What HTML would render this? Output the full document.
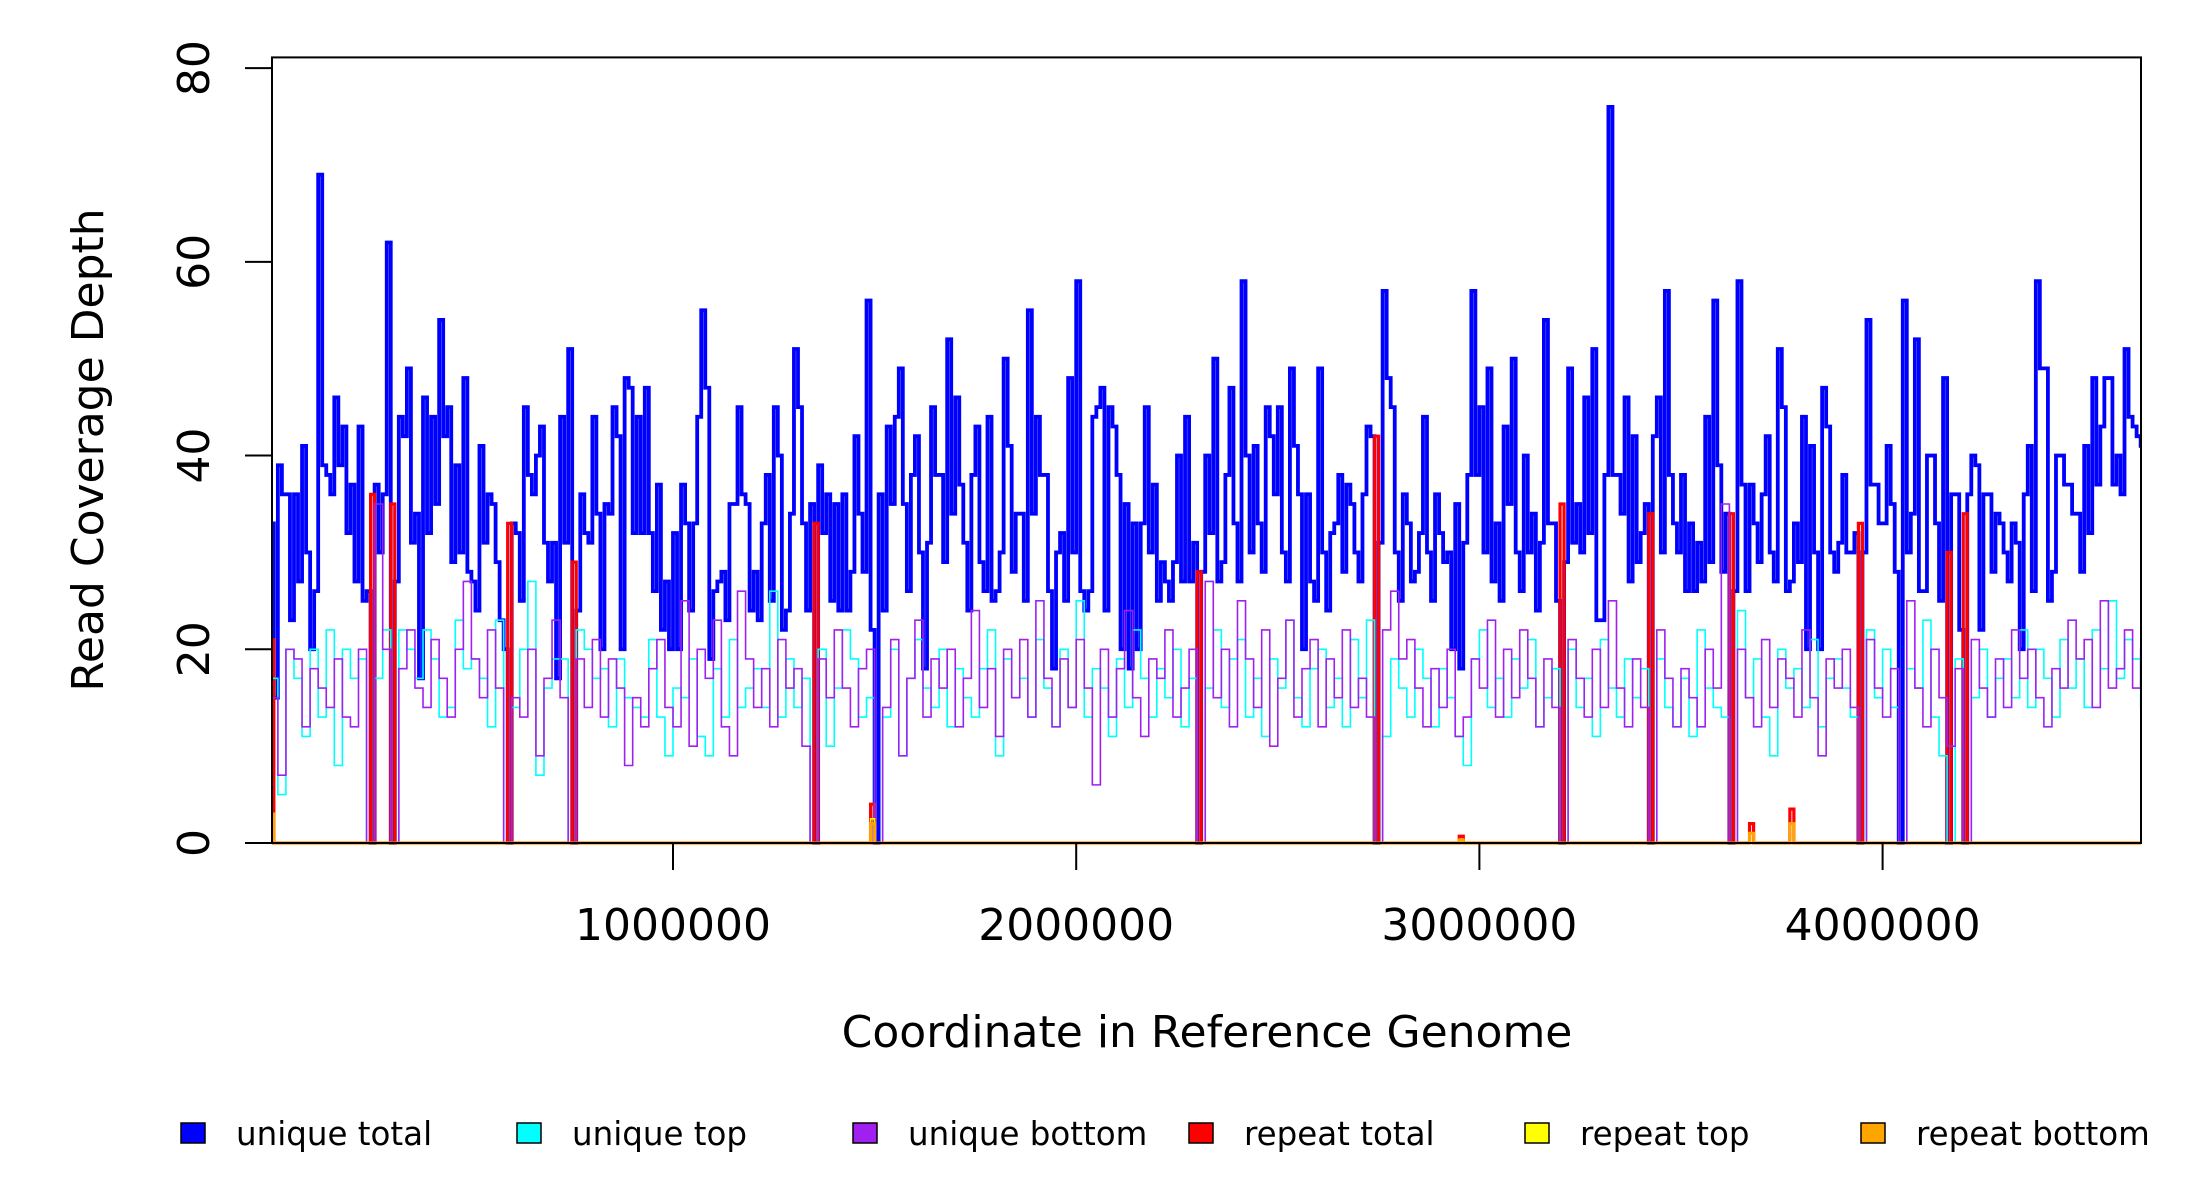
<!DOCTYPE html>
<html><head><meta charset="utf-8"><title>Read Coverage Depth</title>
<style>html,body{margin:0;padding:0;background:#fff}svg{display:block}text{font-family:"DejaVu Sans","Liberation Sans",sans-serif;fill:#000}</style>
</head><body>
<svg id="chart" width="2200" height="1200" viewBox="0 0 2200 1200" xmlns="http://www.w3.org/2000/svg">
<defs><clipPath id="plotclip"><rect x="272" y="57" width="1869" height="792"/></clipPath></defs>
<g id="series" clip-path="url(#plotclip)"></g>
<rect x="272" y="57.4" width="1869" height="785.6" fill="none" stroke="#000" stroke-width="2"/>
<g id="axes"></g>
<text transform="translate(103,450) rotate(-90)" text-anchor="middle" font-size="44">Read Coverage Depth</text>
<text x="1207" y="1047" text-anchor="middle" font-size="44">Coordinate in Reference Genome</text>
<g>
<g><rect x="181" y="1123" width="24" height="20" fill="#0000ff" stroke="#000" stroke-width="1.5"/><text x="236" y="1145" font-size="32.5">unique total</text></g>
<g><rect x="517" y="1123" width="24" height="20" fill="#00ffff" stroke="#000" stroke-width="1.5"/><text x="572" y="1145" font-size="32.5">unique top</text></g>
<g><rect x="853" y="1123" width="24" height="20" fill="#a020f0" stroke="#000" stroke-width="1.5"/><text x="908" y="1145" font-size="32.5">unique bottom</text></g>
<g><rect x="1189" y="1123" width="24" height="20" fill="#ff0000" stroke="#000" stroke-width="1.5"/><text x="1244" y="1145" font-size="32.5">repeat total</text></g>
<g><rect x="1525" y="1123" width="24" height="20" fill="#ffff00" stroke="#000" stroke-width="1.5"/><text x="1580" y="1145" font-size="32.5">repeat top</text></g>
<g><rect x="1861" y="1123" width="24" height="20" fill="#ffa500" stroke="#000" stroke-width="1.5"/><text x="1916" y="1145" font-size="32.5">repeat bottom</text></g>
</g>
</svg>
<script>
const totalBinSize = 10000;
const strandBinSize = 20000;
const xTicks = [1000000, 2000000, 3000000, 4000000];
const xTickLabels = ["1000000", "2000000", "3000000", "4000000"];
const yTicks = [0, 20, 40, 60, 80];
const yTickLabels = ["0", "20", "40", "60", "80"];
const uniqueTotal = [
33,15,39,36,36,23,36,27,41,30, 20,26,69,39,38,36,46,39,43,32, 37,27,43,25,26,0,37,30,36,62,
0,27,44,42,49,31,34,17,46,32, 44,35,54,42,45,29,39,30,48,28, 27,24,41,31,36,35,29,23,20,0,
33,32,25,45,38,36,40,43,31,27, 31,17,44,31,51,0,24,36,32,31, 44,34,20,35,34,45,42,20,48,47,
32,44,32,47,32,26,37,22,27,20, 32,20,37,33,24,33,44,55,47,19, 26,27,28,23,35,35,45,36,35,24,
28,23,33,38,25,45,40,22,24,34, 51,45,33,24,35,0,39,32,36,25, 35,24,36,24,28,42,34,28,56,22,
0,36,24,43,35,44,49,35,26,38,
42,30,18,31,45,38,38,29,52,34, 46,37,31,24,38,43,29,26,44,25, 26,30,50,41,28,34,34,25,55,34,
44,38,38,26,18,30,32,25,48,30, 58,26,24,26,44,45,47,24,45,43, 38,20,35,18,33,20,33,45,30,37,
25,29,27,25,29,40,27,44,27,31, 0,28,40,32,50,27,29,38,47,33, 27,58,40,30,41,33,28,45,42,36,
45,30,27,49,41,36,20,36,27,25, 49,30,24,32,33,38,28,37,35,30, 27,36,43,42,0,31,57,48,45,30,
25,36,33,27,28,32,44,30,25,36, 32,29,30,20,35,18,31,38,57,38, 45,30,49,27,33,25,43,35,50,30,
26,40,30,34,24,31,54,33,33,25, 0,29,49,31,35,30,46,32,51,23, 23,38,76,38,38,34,46,27,42,29,
32,35,0,42,46,30,57,38,33,30, 38,26,33,26,31,27,44,29,56,39, 28,34,0,26,58,37,26,37,33,29,
36,42,30,27,51,45,26,27,33,29, 44,20,41,30,20,47,43,30,28,31, 38,30,30,32,0,30,54,37,37,33,
33,41,35,28,0,56,30,34,52,26, 26,40,40,33,25,48,0,36,36,22, 0,36,40,39,22,36,36,28,34,33,
30,27,33,31,20,36,41,26,58,49, 49,25,28,40,40,37,37,34,34,28, 41,32,48,37,43,48,48,37,40,36,
51,44,43,42,41,27
];
const uniqueTop = [
17,5,20,17,11,20,13,22,8,20, 17,19,0,17,22,0,22,20,17,22, 19,13,14,23,18,19,17,12,23,0,
14,20,27,7,16,19,19,0,22,20, 17,18,12,19,15,14,13,21,13,9, 16,15,19,11,9,18,13,21,14,16,
18,14,26,13,19,14,17,0,20,10, 16,22,19,13,15,0,13,20,9,17, 21,16,14,20,12,18,15,13,18,22,
9,19,15,17,13,21,16,12,20,14, 25,13,18,16,11,19,14,22,17,13, 18,15,20,12,17,0,16,22,14,19,
21,13,17,11,19,16,23,15,12,18, 20,14,17,12,21,15,23,0,11,19, 16,13,20,17,12,18,15,11,8,19,
22,14,17,13,19,16,21,12,15,18, 0,20,14,17,11,21,16,13,19,15, 18,0,19,14,12,17,11,22,16,14,
13,0,24,15,19,13,9,20,16,18, 14,21,12,17,19,16,13,0,22,15, 20,14,0,18,16,23,13,9,0,19,
0,15,20,13,17,19,15,22,14,20, 17,13,21,16,19,14,22,18,25,17, 21,19,14
];
const uniqueBottom = [
15,7,20,19,12,18,16,14,19,13, 12,20,0,35,20,0,18,22,16,14, 21,17,13,20,27,19,15,22,16,0,
15,13,20,9,17,23,15,0,19,14, 21,13,19,16,8,15,12,18,21,14, 12,25,10,20,17,23,12,9,26,19,
14,18,12,21,16,18,10,0,19,15, 22,16,12,18,20,0,14,21,9,17, 23,13,19,16,20,12,17,24,14,18,
11,20,15,21,13,25,17,12,19,14, 21,16,6,20,13,18,24,15,11,19, 17,22,13,16,20,0,27,15,20,12,
25,19,14,22,10,17,23,13,18,21, 12,19,15,22,14,17,13,0,22,26, 19,21,16,12,18,14,20,11,13,19,
16,23,13,20,15,22,17,12,19,14, 0,21,17,13,20,14,25,16,12,19, 14,0,22,17,12,18,15,12,20,16,
35,0,20,15,12,21,14,19,17,13, 22,15,9,19,16,20,14,0,21,16, 13,18,0,25,16,12,20,15,10,18,
0,21,16,13,19,14,22,17,20,15, 12,18,16,23,19,21,14,25,16,18, 22,16,20
];
const repeatBins = [0, 25, 30, 59, 75, 135, 149, 230, 274, 295, 320, 342, 362, 367, 377, 394, 416, 420];
const repeatTotal = [21, 36, 35, 33, 29, 33, 4, 28, 42, 0.7, 35, 34, 34, 2, 3.5, 33, 30, 34];
const repeatTop = [1, 0, 0, 0, 0, 0, 2.5, 0, 0, 0.4, 0, 0, 0, 1, 2, 0, 0, 0];
const repeatBottom = [3, 0, 0, 0, 0, 0, 2, 0, 0, 0.3, 0, 0, 0, 1, 2, 0, 0, 0];

const NS = "http://www.w3.org/2000/svg";
function xScale(bp) { return 269.8 + bp * 403.2e-6; }
function yScale(v) { return 843 - v * 9.686; }
function stepPath(values, binSize) {
  let d = "";
  for (let i = 0; i < values.length; i++) {
    const x0 = xScale(i * binSize), x1 = xScale((i + 1) * binSize), y = yScale(values[i]);
    d += (i === 0 ? "M" : "L") + x0.toFixed(2) + "," + y.toFixed(2) + "L" + x1.toFixed(2) + "," + y.toFixed(2);
  }
  return d;
}
function sparse(nBins, bins, vals) {
  const out = new Array(nBins).fill(0);
  bins.forEach((b, k) => { out[b] = vals[k]; });
  return out;
}
const nBins = uniqueTotal.length;
const seriesLayer = document.getElementById("series");
function addSeries(values, binSize, color, width, name) {
  const p = document.createElementNS(NS, "path");
  p.setAttribute("d", stepPath(values, binSize));
  p.setAttribute("fill", "none");
  p.setAttribute("stroke", color);
  p.setAttribute("stroke-width", width);
  p.setAttribute("stroke-linejoin", "miter");
  
  
  seriesLayer.appendChild(p);
}
addSeries(uniqueTotal, totalBinSize, "#0000ff", 3.8, "unique-total-line");
addSeries(sparse(nBins, repeatBins, repeatTotal), totalBinSize, "#ff0000", 3.2, "repeat-total-line");
addSeries(uniqueTop, strandBinSize, "#00ffff", 1.6, "unique-top-line");
addSeries(uniqueBottom, strandBinSize, "#a020f0", 1.6, "unique-bottom-line");
addSeries(sparse(nBins, repeatBins, repeatTop), totalBinSize, "#ffff00", 1.6, "repeat-top-line");
addSeries(sparse(nBins, repeatBins, repeatBottom), totalBinSize, "#ffa500", 3, "repeat-bottom-line");

const axes = document.getElementById("axes");
function line(x1, y1, x2, y2, name) {
  const l = document.createElementNS(NS, "line");
  l.setAttribute("x1", x1); l.setAttribute("y1", y1);
  l.setAttribute("x2", x2); l.setAttribute("y2", y2);
  l.setAttribute("stroke", "#000"); l.setAttribute("stroke-width", "2");
  
  
  axes.appendChild(l);
}
line(272, yScale(yTicks[0]), 272, yScale(yTicks[yTicks.length - 1]), "y-axis-line");
yTicks.forEach((v, i) => {
  const y = yScale(v);
  line(245, y, 272, y, "y-tick");
  const t = document.createElementNS(NS, "text");
  t.setAttribute("transform", "translate(209," + y + ") rotate(-90)");
  t.setAttribute("text-anchor", "middle");
  t.setAttribute("font-size", "44");
  t.textContent = yTickLabels[i];
  
  
  axes.appendChild(t);
});
line(xScale(xTicks[0]), 843, xScale(xTicks[xTicks.length - 1]), 843, "x-axis-line");
xTicks.forEach((v, i) => {
  const x = xScale(v);
  line(x, 843, x, 870, "x-tick");
  const t = document.createElementNS(NS, "text");
  t.setAttribute("x", x); t.setAttribute("y", 940);
  t.setAttribute("text-anchor", "middle");
  t.setAttribute("font-size", "44");
  t.textContent = xTickLabels[i];
  
  
  axes.appendChild(t);
});
</script>
</body></html>
